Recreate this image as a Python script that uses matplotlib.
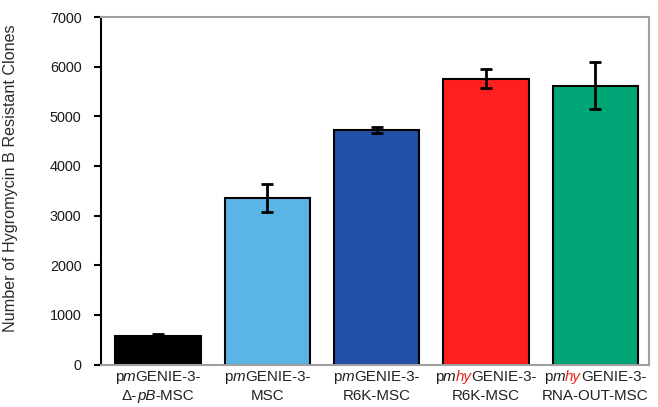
import matplotlib
matplotlib.use('Agg')
import matplotlib.pyplot as plt
from matplotlib.offsetbox import TextArea, HPacker, VPacker, AnnotationBbox

plt.rcParams['font.family'] = ['Liberation Sans', 'DejaVu Sans']

# Data
constructs = ['pmGENIE-3-Δ-pB-MSC', 'pmGENIE-3-MSC', 'pmGENIE-3-R6K-MSC',
              'pmhyGENIE-3-R6K-MSC', 'pmhyGENIE-3-RNA-OUT-MSC']
clones = [580, 3350, 4720, 5760, 5620]
clones_err = [30, 280, 65, 190, 470]
bar_colors = ['#000000', '#5ab4e5', '#2150a6', '#fe1f1f', '#00a676']

# tick label pieces: (text, italic, red)
label_line1 = [
    [('p', False, False), ('m', True, False), ('GENIE-3-', False, False)],
    [('p', False, False), ('m', True, False), ('GENIE-3-', False, False)],
    [('p', False, False), ('m', True, False), ('GENIE-3-', False, False)],
    [('p', False, False), ('m', True, False), ('hy', True, True), ('GENIE-3-', False, False)],
    [('p', False, False), ('m', True, False), ('hy', True, True), ('GENIE-3-', False, False)],
]
label_line2 = [
    [('Δ-', False, False), ('pB', True, False), ('-MSC', False, False)],
    [('MSC', False, False)],
    [('R6K-MSC', False, False)],
    [('R6K-MSC', False, False)],
    [('RNA-OUT-MSC', False, False)],
]

fig = plt.figure(figsize=(6.58, 4.07), dpi=100)
ax = fig.add_axes([0.1535, 0.1044, 0.8325, 0.8538])

x = list(range(len(constructs)))
ax.bar(x, clones, width=0.78, color=bar_colors, edgecolor='black', linewidth=1.5, zorder=2)
ax.errorbar(x, clones, yerr=clones_err, fmt='none', ecolor='black', elinewidth=2,
            capsize=4, capthick=2, zorder=3)

ax.set_xlim(-0.52, 4.49)
ax.set_ylim(0, 7000)
ax.set_yticks(range(0, 7001, 1000))
ax.tick_params(axis='y', labelsize=10.4, length=5, width=1.5, direction='out', pad=9,
               labelcolor='#1a1a1a')
ax.set_xticks([])
ax.set_ylabel('Number of Hygromycin B Resistant Clones', fontsize=11.6, color='#2a2a2a')
ax.yaxis.set_label_coords(-0.152, 0.535)

for side in ['top', 'right', 'bottom']:
    ax.spines[side].set_color('#a0a0a0')
    ax.spines[side].set_linewidth(1.5)
ax.spines['left'].set_linewidth(1.5)


def make_line(pieces):
    parts = []
    for txt, ital, red in pieces:
        parts.append(TextArea(txt, textprops=dict(fontsize=10.9, style='italic' if ital else 'normal',
                                                  color='#e8231f' if red else '#222222')))
    return HPacker(children=parts, pad=0, sep=0, align='baseline')


for i in x:
    box = VPacker(children=[make_line(label_line1[i]), make_line(label_line2[i])],
                  pad=0, sep=3.5, align='center')
    ab = AnnotationBbox(box, (i, 0), xycoords=('data', 'axes fraction'),
                        xybox=(0, -4), boxcoords='offset points', box_alignment=(0.5, 1),
                        frameon=False, annotation_clip=False)
    ax.add_artist(ab)

fig.savefig('out.png', dpi=100)
